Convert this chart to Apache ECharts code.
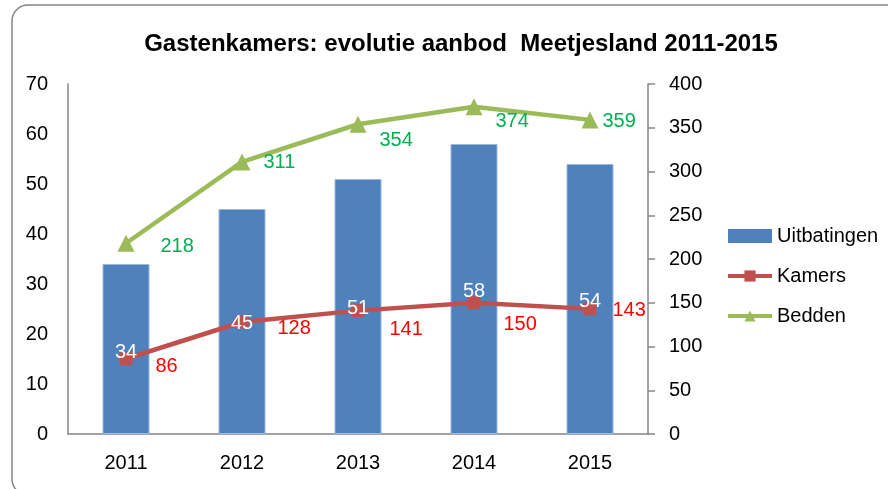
<!DOCTYPE html>
<html>
<head>
<meta charset="utf-8">
<script src="https://cdn.jsdelivr.net/npm/echarts@6/dist/echarts.min.js"></script>
<style>
  html, body { margin: 0; padding: 0; background: #fff; }
  #chart { width: 888px; height: 489px; }
</style>
</head>
<body>
<div id="chart"></div>
<script>
// data
var years = ['2011', '2012', '2013', '2014', '2015']
var uitbatingen = [34, 45, 51, 58, 54]
var kamers = [86, 128, 141, 150, 143]
var bedden = [218, 311, 354, 374, 359]

// label placement (style only, hand-tuned like the original)
var barLabelY = [88, 114, 129, 147, 137]
var kamersLabelOffset = [[23, 8], [29, 6], [25, 19], [23, 22], [16, 2]]
var beddenLabelOffset = [[26, 3], [13, 1], [13, 16], [13, 15], [4, 2]]

var font = 'Liberation Sans'
var fs = 20

var myChart = echarts.init(document.getElementById('chart'))

var option = {
  animation: false,
  textStyle: { fontFamily: font },
  title: {
    text: 'Gastenkamers: evolutie aanbod  Meetjesland 2011-2015',
    left: 456,
    textAlign: 'center',
    top: 27,
    textStyle: { fontSize: 24, fontWeight: 'bold', color: '#000', fontFamily: font }
  },
  graphic: [{
    type: 'rect',
    shape: { x: 12, y: 5, width: 900, height: 490, r: 16 },
    style: { fill: 'none', stroke: '#868686', lineWidth: 1.5 },
    z: -1
  }],
  legend: {
    orient: 'vertical',
    left: 721,
    top: 221,
    itemWidth: 44,
    itemHeight: 14,
    itemGap: 20,
    lineStyle: { width: 4 },
    textStyle: { fontSize: fs, color: '#000' },
    data: [
      { name: 'Uitbatingen', icon: 'rect', itemStyle: { borderWidth: 0 } },
      { name: 'Kamers' },
      { name: 'Bedden' }
    ]
  },
  grid: { left: 68, right: 240, top: 84, bottom: 55 },
  xAxis: {
    type: 'category',
    data: years,
    axisLine: { lineStyle: { color: '#868686', width: 1.5 } },
    axisTick: { show: false },
    axisLabel: { fontSize: fs, color: '#000', margin: 19 }
  },
  yAxis: [
    {
      type: 'value',
      min: 0, max: 70, interval: 10,
      axisLine: { show: true, lineStyle: { color: '#868686', width: 1.5 } },
      axisTick: { show: false },
      splitLine: { show: false },
      axisLabel: { fontSize: fs, color: '#000', margin: 20 }
    },
    {
      type: 'value',
      min: 0, max: 400, interval: 50,
      position: 'right',
      axisLine: { show: true, lineStyle: { color: '#868686', width: 1.5 } },
      axisTick: { show: true, length: 7, lineStyle: { color: '#868686', width: 1.5 } },
      splitLine: { show: false },
      axisLabel: { fontSize: fs, color: '#000', margin: 21 }
    }
  ],
  series: [
    {
      name: 'Uitbatingen',
      type: 'bar',
      barWidth: 47,
      itemStyle: { color: '#4F81BD', borderColor: '#9DB8DA', borderWidth: 1 },
      data: uitbatingen,
      z: 2
    },
    {
      name: 'Kamers',
      type: 'line',
      yAxisIndex: 1,
      symbol: 'rect',
      symbolSize: 13,
      lineStyle: { color: '#C0504D', width: 4.5 },
      itemStyle: { color: '#C0504D' },
      data: kamers.map(function (v, i) {
        return { value: v, label: { offset: kamersLabelOffset[i] } }
      }),
      label: {
        show: true,
        position: 'right',
        distance: 0,
        color: '#FF0000',
        fontSize: fs
      },
      z: 3
    },
    {
      name: 'Bedden',
      type: 'line',
      yAxisIndex: 1,
      symbol: 'triangle',
      symbolSize: 17,
      lineStyle: { color: '#9BBB59', width: 4.5 },
      itemStyle: { color: '#9BBB59' },
      data: bedden.map(function (v, i) {
        return { value: v, label: { offset: beddenLabelOffset[i] } }
      }),
      label: {
        show: true,
        position: 'right',
        distance: 0,
        color: '#00B050',
        fontSize: fs
      },
      z: 3
    },
    {
      // transparent copy of the bars, only to put their labels above the lines
      name: 'Uitbatingen labels',
      type: 'bar',
      barWidth: 47,
      barGap: '-100%',
      silent: true,
      itemStyle: { color: 'transparent' },
      data: uitbatingen.map(function (v, i) {
        return { value: v, label: { position: ['50%', barLabelY[i]] } }
      }),
      label: {
        show: true,
        color: '#fff',
        fontSize: fs,
        align: 'center',
        verticalAlign: 'middle'
      },
      z: 5
    }
  ]
}

myChart.setOption(option)
</script>
</body>
</html>
